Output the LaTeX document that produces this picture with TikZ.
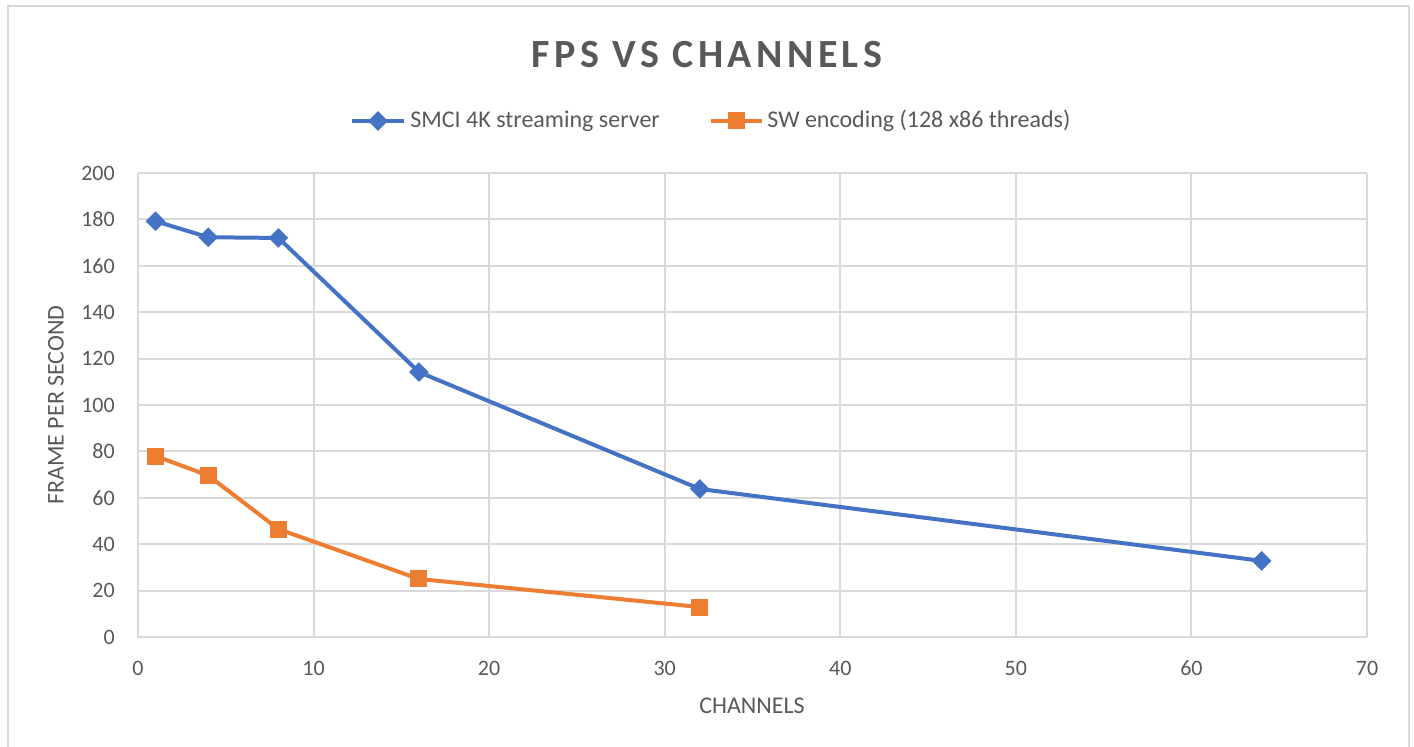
\documentclass[tikz,border=0pt]{standalone}
\usepackage{fontspec}
\setmainfont{Carlito}
\newfontfamily\titlefont[LetterSpace=11]{Carlito}
\usepackage{tikz}
\usetikzlibrary{shapes.geometric}
\definecolor{myblue}{RGB}{68, 114, 196}
\definecolor{myorange}{RGB}{237, 125, 49}
\definecolor{mygrid}{RGB}{217, 217, 217}
\definecolor{mytext}{RGB}{89, 89, 89}
\tikzset{
ticklabel/.style = {text = mytext, font = \fontsize{11}{13}\selectfont, inner sep = 0pt},
textlabel/.style = {text = mytext, font = \fontsize{12}{14}\selectfont, inner sep = 0pt},
gridline/.style = {mygrid, line width = 1pt},
diamondmark/.style = {diamond, fill = myblue, inner sep = 0pt, minimum width = 10pt, minimum height = 10pt},
squaremark/.style = {rectangle, fill = myorange, inner sep = 0pt, minimum size = 8.5pt},
series/.style = {line width = 2pt, line join = round}
}

\begin{document}
\begin{tikzpicture}[x = 0.5pt, y = 0.5pt]
\useasboundingbox (0,0) rectangle (1414,747);
\draw[mygrid, line width = 1pt] (7.5,-5) -- (7.5,741) -- (1409,741) -- (1409,-5);
\node[text = mytext, font = \titlefont\bfseries\fontsize{20}{24}\selectfont] (title) at (707,692) {FPS VS CHANNELS};
% legend
\coordinate (lba) at (352,626); \coordinate (lbb) at (404,626);
\coordinate (loa) at (711,626); \coordinate (lob) at (762,626);
\draw[series, myblue] (lba) -- (lbb);
\draw[series, myorange] (loa) -- (lob);
\node[diamondmark] (legb) at (378,626) {};
\node[squaremark] (lego) at (736.5,626) {};
\node[textlabel, anchor = west] (legbtext) at (410,626) {SMCI 4K streaming server};
\node[textlabel, anchor = west] (legotext) at (767,626) {SW encoding (128 x86 threads)};
% plot area
\begin{scope}[shift = {(138,110)}, x = 8.7786pt, y = 1.16pt]
\foreach \y in {20,40,...,200}
  \draw[gridline] (0,\y) -- (70,\y);
\foreach \x in {10,20,...,70}
  \draw[gridline] (\x,0) -- (\x,200);
\draw[gridline] (0,200) -- (0,0) -- (70,0);
\foreach \y in {0,20,...,200}
  \node[ticklabel, anchor = east] (ytick\y) at (-1.3,\y) {\y};
\foreach \x in {0,10,...,70}
  \node[ticklabel] (xtick\x) at (\x,-13.4) {\x};
% data
\foreach \i/\x/\y in {1/1/179.2, 2/4/172.3, 3/8/172, 4/16/114.2, 5/32/63.8, 6/64/32.8}
  \coordinate (b\i) at (\x,\y);
\foreach \i/\x/\y in {1/1/78, 2/4/69.6, 3/8/46.5, 4/16/25, 5/32/12.9}
  \coordinate (o\i) at (\x,\y);
\draw[series, myblue] (b1) -- (b2) -- (b3) -- (b4) -- (b5) -- (b6);
\draw[series, myorange] (o1) -- (o2) -- (o3) -- (o4) -- (o5);
\foreach \i in {1,...,6}
  \node[diamondmark] (bm\i) at (b\i) {};
\foreach \i in {1,...,5}
  \node[squaremark] (om\i) at (o\i) {};
\end{scope}
\node[textlabel, rotate = 90] (ylabel) at (56,342) {FRAME PER SECOND};
\node[textlabel] (xlabel) at (752,41) {CHANNELS};
\end{tikzpicture}
\end{document}
